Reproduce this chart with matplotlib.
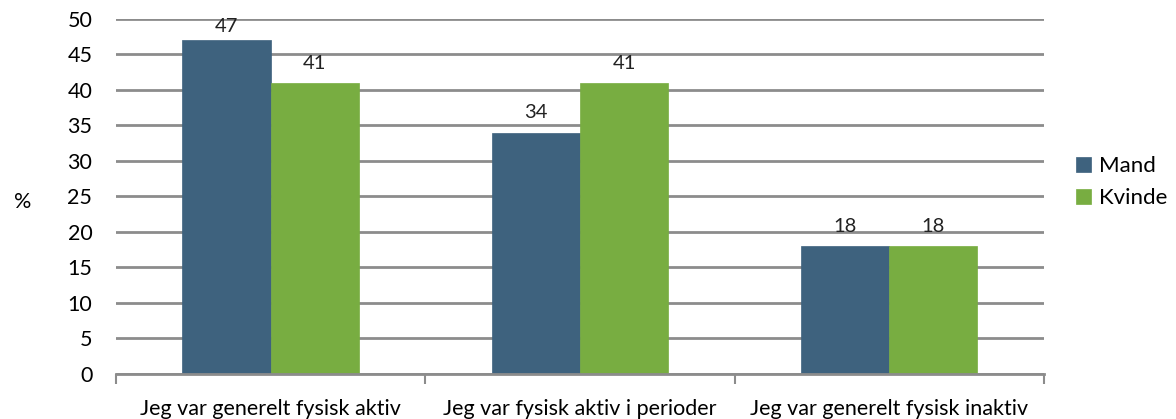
import matplotlib
matplotlib.use("Agg")
import matplotlib.pyplot as plt
import numpy as np

categories = ["Jeg var generelt fysisk aktiv", "Jeg var fysisk aktiv i perioder", "Jeg var generelt fysisk inaktiv"]
series_names = ["Mand", "Kvinde"]
mand = [47, 34, 18]
kvinde = [41, 41, 18]
yticks = [0, 5, 10, 15, 20, 25, 30, 35, 40, 45, 50]

colors = ["#3E627E", "#78AD41"]
plt.rcParams['font.family'] = ['Lato', 'DejaVu Sans']
FS = 15.5

fig = plt.figure(figsize=(11.76, 4.19), dpi=100)
ax = fig.add_axes([0.0986, 0.1074, 0.789, 0.8473])

x = np.arange(len(categories))
w = 0.285
for i, (vals, c, name) in enumerate(zip([mand, kvinde], colors, series_names)):
    pos = x + (i - 0.5) * w
    ax.bar(pos, vals, width=w, color=c, label=name, zorder=3, edgecolor=c, linewidth=0.5)
    for p, v in zip(pos, vals):
        ax.text(p, min(v + 1.6, 47.8), str(v), ha='center', va='bottom', fontsize=FS - 1,
                color='#222222')

ax.set_xlim(-0.5, len(categories) - 0.5)
ax.set_ylim(0, 50)
ax.set_yticks(yticks)
ax.set_yticklabels([str(t) for t in yticks], fontsize=FS)
ax.yaxis.grid(True, color='#8c8c8c', linewidth=2, zorder=0)
ax.set_axisbelow(True)
ax.tick_params(axis='y', length=0, pad=17)
for s in ['left', 'right', 'top']:
    ax.spines[s].set_visible(False)
ax.spines['bottom'].set_color('#8c8c8c')
ax.spines['bottom'].set_linewidth(2)
ax.spines['bottom'].set_zorder(4)

ax.set_xticks(np.arange(-0.5, len(categories), 1.0))
ax.set_xticklabels([])
ax.tick_params(axis='x', length=7, width=1.5, color='#8c8c8c', direction='out')
ax.set_xticks(x, minor=True)
ax.set_xticklabels(categories, minor=True, fontsize=FS)
ax.tick_params(axis='x', which='minor', length=0, pad=18)

ax.set_ylabel('%', fontsize=FS, rotation=0, labelpad=0, va='center', ha='center')
ax.yaxis.set_label_coords(-0.101, 0.485)

ax.legend(loc='center left', bbox_to_anchor=(1.025, 0.54), frameon=False, fontsize=FS + 0.5,
          handlelength=0.7, handleheight=0.7, handletextpad=0.35, labelspacing=0.55,
          borderaxespad=0)

fig.savefig('out.png', dpi=100)
